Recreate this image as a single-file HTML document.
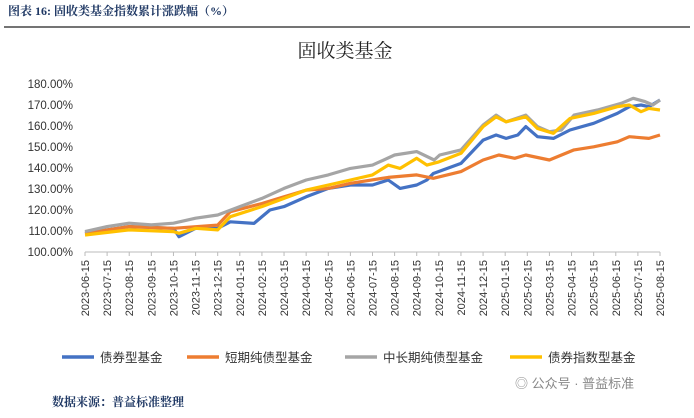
<!DOCTYPE html>
<html><head><meta charset="utf-8"><style>
body{margin:0;background:#fff;width:694px;height:413px;overflow:hidden;font-family:"Liberation Sans","Noto Sans CJK SC",sans-serif}
</style></head><body>
<svg width="694" height="413" xmlns="http://www.w3.org/2000/svg" style="font-family:'Liberation Sans','Noto Sans CJK SC',sans-serif">
<text x="8" y="15" font-size="12" font-weight="bold" fill="#1f3864" style="font-family:'Liberation Serif','Noto Serif CJK SC',serif">图表 16:    固收类基金指数累计涨跌幅（%）</text>
<line x1="4" y1="27" x2="690" y2="27" stroke="#222" stroke-width="1.2"/>
<text x="345" y="57" font-size="19" text-anchor="middle" fill="#222" style="font-family:'Liberation Serif','Noto Serif CJK SC',serif">固收类基金</text>
<g id="yaxis"></g><g id="xaxis"></g><g id="series"></g>
<g id="legend"></g>
<text x="515" y="388" font-size="13" fill="#888">◎ 公众号 · 普益标准</text>
<text x="52" y="406" font-size="12" font-weight="bold" fill="#1f3864" style="font-family:'Liberation Serif','Noto Serif CJK SC',serif">数据来源：普益标准整理</text>
</svg>
<script>
const yTicks=[100,110,120,130,140,150,160,170,180];
const xLabels=["2023-06-15","2023-07-15","2023-08-15","2023-09-15","2023-10-15","2023-11-15","2023-12-15","2024-01-15","2024-02-15","2024-03-15","2024-04-15","2024-05-15","2024-06-15","2024-07-15","2024-08-15","2024-09-15","2024-10-15","2024-11-15","2024-12-15","2025-01-15","2025-02-15","2025-03-15","2025-04-15","2025-05-15","2025-06-15","2025-07-15","2025-08-15"];
const seriesNames=["债券型基金","短期纯债型基金","中长期纯债型基金","债券指数型基金"];
const colors=["#4472c4","#ed7d31","#a5a5a5","#ffc000"];
// time in months since 2023-06-15
const blueT=[0,2,4,4.25,5,6,6.57,7.64,8.36,9,10,11,12,13,13.71,14.25,15,15.46,15.75,17,18,18.59,19.04,19.57,19.93,20.46,21.18,21.93,23,24.07,24.61,25.14,25.5,26];
const blueV=[108.9,112.1,111.3,107.3,111.3,111.3,114.4,113.6,120,121.6,126.3,130.3,131.9,131.9,134.3,130.3,131.9,134.3,137.4,142.2,153.3,155.7,154.1,155.7,159.7,154.9,154.1,158.1,161.3,166,169.2,170,169.2,172.4];
const orangeT=[0,2,4,6,6.57,8,9,10,11,12,13.71,15,15.75,17,18,18.71,19.43,19.93,21,22.11,23,24.07,24.61,25.5,26];
const orangeV=[108.9,112.1,111.3,112.8,119.2,123.1,126.3,129.5,130.3,132.7,135.5,136.7,135.1,138.3,143.8,146.2,144.6,146.2,143.8,148.6,150.1,152.5,154.9,154.1,155.7];
const grayT=[0,1,2,3,4,5,6,7,8,9,10,11,12,13,14,15,15.79,16.04,17,18,18.59,19.04,19.93,20.46,21,21.54,22.11,23.18,24.25,24.79,25.32,25.68,26];
const grayV=[109.7,112.1,113.7,112.9,113.7,116.1,117.6,121.6,125.5,130.3,134.3,136.7,139.8,141.4,146.2,147.8,143.8,146.2,148.6,160.5,165.2,162,165.2,159.7,157.3,158.1,165.2,167.6,170.8,173.2,171.6,170,172.4];
const yellowT=[0,2,4,4.25,5,6,6.57,8,9,10,11,12,13,13.71,14.25,15,15.46,16,17,18,18.59,19.04,19.93,20.46,21.18,21.93,23,24.07,24.61,25.14,25.5,26];
const yellowV=[108.1,110.5,109.7,108.9,111.3,110.5,116.8,121.6,125.5,129.5,131.9,134.3,136.7,141.4,139.8,144.6,141.4,142.9,147,159.7,164.4,162,164.4,158.8,156.5,163.6,166,169.2,170,166.8,168.4,167.6];
const NS="http://www.w3.org/2000/svg";
const X0=85,X1=660,Y0=252,Y1=84;
const xs=t=>X0+t*(X1-X0)/(xLabels.length-1);
const ys=v=>Y0-(v-100)*(Y0-Y1)/80;
function mk(tag,at,parent){const e=document.createElementNS(NS,tag);for(const k in at)e.setAttribute(k,at[k]);parent.appendChild(e);return e;}
const ya=document.getElementById('yaxis');
yTicks.forEach(v=>{const t=mk('text',{x:73,y:ys(v)+4,'font-size':11.5,'text-anchor':'end',fill:'#333'},ya);


t.textContent=v.toFixed(2)+'%';});
const xa=document.getElementById('xaxis');
const ax=mk('line',{x1:X0,y1:Y0,x2:X1,y2:Y0,stroke:'#bbb'},xa);


xLabels.forEach((l,i)=>{const x=xs(i);
const tk=mk('line',{x1:x,y1:Y0,x2:x,y2:Y0+4,stroke:'#bbb'},xa);


const t=mk('text',{x:0,y:0,'font-size':11,'text-anchor':'end',fill:'#333',transform:`translate(${x+4},${Y0+8}) rotate(-90)`},xa);


t.textContent=l;});
const sg=document.getElementById('series');
[[blueT,blueV],[orangeT,orangeV],[grayT,grayV],[yellowT,yellowV]].forEach((s,i)=>{
const d=s[0].map((t,j)=>(j?'L':'M')+xs(t).toFixed(1)+','+ys(s[1][j]).toFixed(1)).join('');
const p=mk('path',{d:d,fill:'none',stroke:colors[i],'stroke-width':3.2,'stroke-linejoin':'round'},sg);

});
const lg=document.getElementById('legend');
const lx=[62,187,345,510];
seriesNames.forEach((n,i)=>{
const g=mk('g',{},lg);


mk('line',{x1:lx[i],y1:357,x2:lx[i]+32,y2:357,stroke:colors[i],'stroke-width':3.5},g);
const t=mk('text',{x:lx[i]+38,y:362,'font-size':12.5,fill:'#333'},g);
t.textContent=n;});
</script>
</body></html>
